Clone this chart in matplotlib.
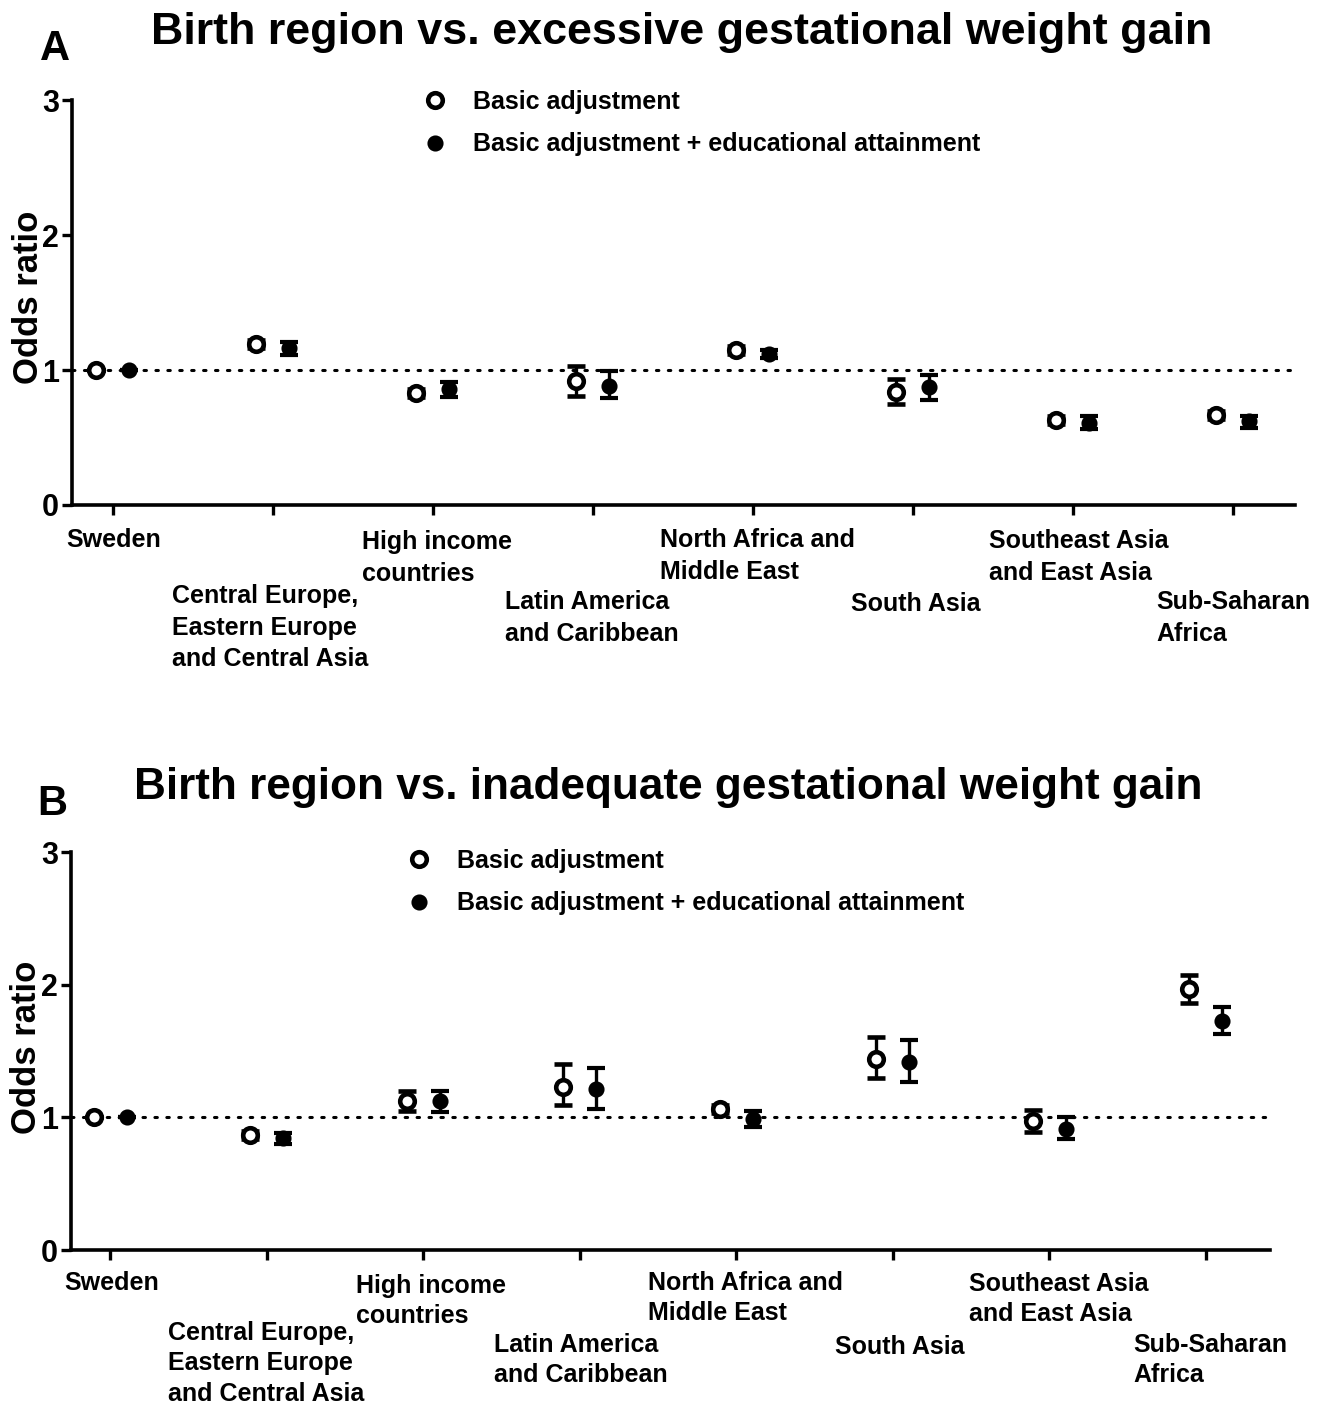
import matplotlib
matplotlib.use("Agg")
import matplotlib.pyplot as plt
from matplotlib.lines import Line2D
import numpy as np

plt.rcParams['font.family'] = ['Liberation Sans', 'DejaVu Sans']
plt.rcParams['font.weight'] = 'bold'

categories = ["Sweden", "Central Europe,\nEastern Europe\nand Central Asia", "High income\ncountries",
              "Latin America\nand Caribbean", "North Africa and\nMiddle East", "South Asia",
              "Southeast Asia\nand East Asia", "Sub-Saharan\nAfrica"]

# Panel A: excessive gestational weight gain
a_basic = [1.00, 1.19, 0.83, 0.92, 1.15, 0.84, 0.63, 0.67]
a_basic_lo = [1.00, 1.16, 0.80, 0.81, 1.12, 0.75, 0.60, 0.64]
a_basic_hi = [1.00, 1.22, 0.86, 1.03, 1.18, 0.93, 0.66, 0.70]
a_edu = [1.00, 1.16, 0.86, 0.88, 1.12, 0.875, 0.61, 0.62]
a_edu_lo = [1.00, 1.11, 0.80, 0.79, 1.09, 0.78, 0.56, 0.57]
a_edu_hi = [1.00, 1.21, 0.91, 0.99, 1.15, 0.96, 0.66, 0.66]

# Panel B: inadequate gestational weight gain
b_basic = [1.00, 0.87, 1.12, 1.23, 1.06, 1.44, 0.97, 1.965]
b_basic_lo = [1.00, 0.84, 1.045, 1.09, 1.03, 1.30, 0.89, 1.865]
b_basic_hi = [1.00, 0.90, 1.20, 1.40, 1.09, 1.605, 1.055, 2.075]
b_edu = [1.00, 0.845, 1.12, 1.21, 0.99, 1.42, 0.915, 1.725]
b_edu_lo = [1.00, 0.80, 1.04, 1.065, 0.93, 1.27, 0.84, 1.625]
b_edu_hi = [1.00, 0.88, 1.20, 1.375, 1.045, 1.58, 1.00, 1.835]

yticks = [0, 1, 2, 3]
legend_labels = ["Basic adjustment", "Basic adjustment + educational attainment"]
titles = ["Birth region vs. excessive gestational weight gain",
          "Birth region vs. inadequate gestational weight gain"]
panel_letters = ["A", "B"]
ylabel = "Odds ratio"

W, H = 1329, 1407
fig = plt.figure(figsize=(W / 100, H / 100), dpi=100)

def fx(px):
    return px / W

def fy(py):
    return 1 - py / H

panels = [
    dict(rect=[72, 100, 1295, 505], xlim=(-0.254, 7.39),
         data=(a_basic, a_basic_lo, a_basic_hi, a_edu, a_edu_lo, a_edu_hi),
         title_xy=(682, 44), title_fs=32.3, letter_xy=(40, 60), ylab_xy=(29, 297),
         leg_xy=(422, 123), lab_ls=1.4,
         label_pos=[(66, 537), (172, 593), (362, 539), (505, 599), (660, 537),
                    (851, 601), (989, 538), (1156, 599)]),
    dict(rect=[71, 852, 1270, 1250], xlim=(-0.25, 7.41),
         data=(b_basic, b_basic_lo, b_basic_hi, b_edu, b_edu_lo, b_edu_hi),
         title_xy=(668, 799), title_fs=31.8, letter_xy=(37, 815), ylab_xy=(27, 1047),
         leg_xy=(406, 882), lab_ls=1.34,
         label_pos=[(64, 1280), (168, 1330), (356, 1283), (494, 1342), (648, 1280),
                    (835, 1344), (969, 1281), (1133, 1342)]),
]

off = 0.105
lw_axis = 2.6
for k, p in enumerate(panels):
    l, t, r, b = p['rect']
    ax = fig.add_axes([fx(l), fy(b), (r - l) / W, (b - t) / H])
    ax.set_xlim(*p['xlim'])
    ax.set_ylim(0, 3)
    x = np.arange(len(categories))
    bas, bas_lo, bas_hi, edu, edu_lo, edu_hi = [np.array(v) for v in p['data']]

    ax.axhline(1, color='black', lw=2.2, linestyle=(0, (0.8, 3.1)), dash_capstyle='round', zorder=1)

    ax.errorbar(x - off, bas, yerr=[bas - bas_lo, bas_hi - bas], fmt='o', ms=10.5, mew=3.3,
                mfc='white', mec='black', ecolor='black', elinewidth=2.4, capsize=6.3,
                zorder=3)
    ax.errorbar(x + off, edu, yerr=[edu - edu_lo, edu_hi - edu], fmt='o', ms=8.6, mew=3.0,
                mfc='black', mec='black', ecolor='black', elinewidth=2.4, capsize=6.3,
                zorder=3)

    for s in ['top', 'right']:
        ax.spines[s].set_visible(False)
    for s in ['left', 'bottom']:
        ax.spines[s].set_linewidth(lw_axis)
    ax.set_xticks(x)
    ax.set_xticklabels([''] * len(categories))
    ax.set_yticks(yticks)
    ax.set_yticklabels([str(v) for v in yticks], fontsize=22, fontweight='bold')
    ax.tick_params(axis='both', direction='out', length=7.5, width=2.4, pad=2)

    for lab, (lx, ly) in zip(categories, p['label_pos']):
        fig.text(fx(lx), fy(ly - 9), lab, ha='left', va='top', fontsize=18,
                 fontweight='bold', linespacing=p['lab_ls'])

    fig.text(fx(p['title_xy'][0]), fy(p['title_xy'][1]), titles[k], ha='center',
             va='baseline', fontsize=p['title_fs'], fontweight='bold')
    fig.text(fx(p['letter_xy'][0]), fy(p['letter_xy'][1]), panel_letters[k], ha='left',
             va='baseline', fontsize=30, fontweight='bold')
    fig.text(fx(p['ylab_xy'][0]), fy(p['ylab_xy'][1]), ylabel, rotation=90, ha='center',
             va='center', fontsize=25, fontweight='bold')

    handles = [Line2D([], [], ls='none', marker='o', ms=10.5, mew=3.3, mfc='white', mec='black'),
               Line2D([], [], ls='none', marker='o', ms=8.6, mew=3.0, mfc='black', mec='black')]
    lx, ly = p['leg_xy']
    ax.legend(handles, legend_labels, loc='center left', bbox_to_anchor=(fx(lx), fy(ly)),
              bbox_transform=fig.transFigure, frameon=False,
              prop={'weight': 'bold', 'size': 18}, handlelength=1.0, handletextpad=1.05,
              labelspacing=0.74, borderpad=0, borderaxespad=0)

fig.savefig("out.png", dpi=100)
